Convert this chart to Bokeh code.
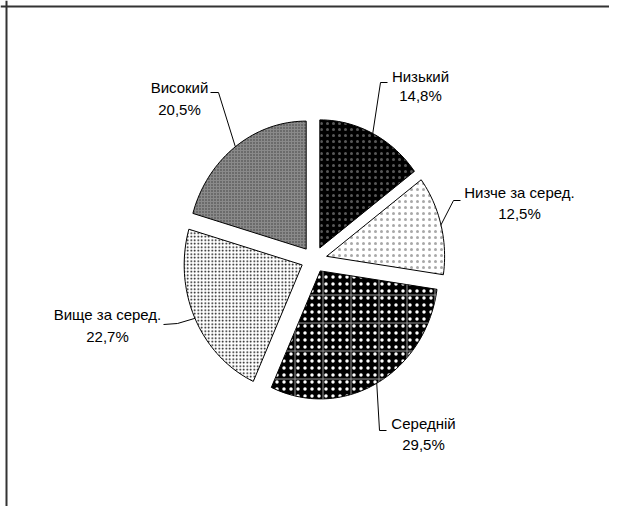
import math
from bokeh.plotting import figure
from bokeh.models import Range1d, Span
from bokeh.embed import file_html
from bokeh.resources import INLINE
from bokeh.core.properties import value

# ---- data ----
categories = ["Низький", "Низче за серед.", "Середній", "Вище за серед.", "Високий"]
shares = [14.8, 12.5, 29.5, 22.7, 20.5]
pct_labels = ["14,8%", "12,5%", "29,5%", "22,7%", "20,5%"]

# ---- layout (canvas pixel coordinates) ----
W, H = 609, 506
CX, CY, RX, RY, EXPLODE = 313.5, 259.0, 118.0, 128.0, 13.0
FONT = value("Liberation Sans")
FSIZE = "15px"
TXT_DY = -5  # baseline correction

# label: (center x, baseline of first line, baseline of second line, elbow points)
label_layout = [
    (420, 81, 100, [(387, 82), (380, 82)]),
    (519, 197, 218, [(460, 200), (453, 200)]),
    (423, 428, 449, [(386, 430), (379, 430)]),
    (107, 319, 341, [(163, 324), (177, 323)]),
    (179, 92, 114, [(210, 92), (218, 92)]),
]

styles = [
    dict(fill_color="black", hatch_pattern="dot", hatch_color="#585858", hatch_scale=6),
    dict(fill_color="white", hatch_pattern="dot", hatch_color="#a8a8a8", hatch_scale=6),
    dict(fill_color="black", hatch_pattern="dot", hatch_color="white", hatch_scale=7),
    dict(fill_color="white", hatch_pattern="dot", hatch_color="black", hatch_scale=3.5),
    dict(fill_color="#8a8a8a", hatch_pattern="dot", hatch_color="#3a3a3a", hatch_scale=3),
]

p = figure(width=W, height=H, output_backend="svg", toolbar_location=None,
           x_range=Range1d(0, W), y_range=Range1d(H, 0), min_border=0)
p.axis.visible = False
p.grid.visible = False
p.outline_line_color = None

total = sum(shares)
start = 0.0
for i, s in enumerate(shares):
    a0 = start / total * 2 * math.pi
    a1 = (start + s) / total * 2 * math.pi
    mid = (a0 + a1) / 2
    ax = CX + EXPLODE * math.sin(mid)
    ay = CY - EXPLODE * math.cos(mid)
    n = max(8, int(s * 2))
    xs = [ax] + [ax + RX * math.sin(a0 + (a1 - a0) * k / n) for k in range(n + 1)]
    ys = [ay] + [ay - RY * math.cos(a0 + (a1 - a0) * k / n) for k in range(n + 1)]
    p.patch(xs, ys, line_color="black", line_width=1, **styles[i])
    if i == 2:
        p.patch(xs, ys, fill_color=None, line_color=None, hatch_pattern="+",
                hatch_color="#9a9a9a", hatch_scale=28, hatch_weight=1)
    # leader line
    ex = ax + RX * math.sin(mid)
    ey = ay - RY * math.cos(mid)
    lx, b1, b2, elbow = label_layout[i]
    p.line([pt[0] for pt in elbow] + [ex], [pt[1] for pt in elbow] + [ey],
           line_color="black", line_width=1)
    p.text([lx, lx], [b1 + TXT_DY, b2 + TXT_DY], text=[categories[i], pct_labels[i]],
           text_align="center", text_baseline="alphabetic",
           text_font=FONT, text_font_size=FSIZE, text_color="black")
    start += s

# chart border (top and left edges visible in the crop)
p.add_layout(Span(location=6, dimension="height", line_color="#333333", line_width=2))
p.add_layout(Span(location=6, dimension="width", line_color="#333333", line_width=2))

open("out.html", "w").write(file_html(p, INLINE))
